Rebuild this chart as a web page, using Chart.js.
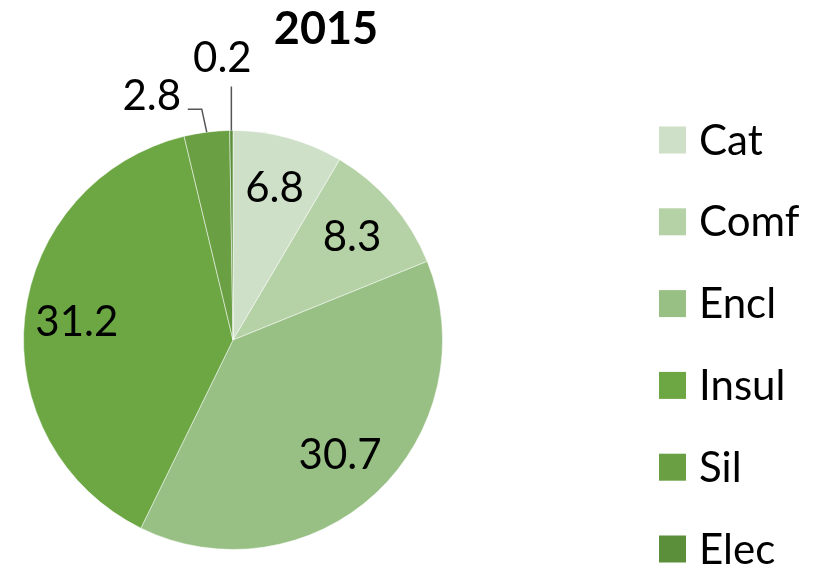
<!DOCTYPE html>
<html>
<head>
<meta charset="utf-8">
<script src="https://cdn.jsdelivr.net/npm/chart.js@4.4.2/dist/chart.umd.min.js"></script>
<style>
  html, body { margin: 0; padding: 0; background: #fff; }
  #wrap { width: 827px; height: 568px; }
</style>
</head>
<body>
<div id="wrap"><canvas id="chart" width="827" height="568"></canvas></div>
<script>
const title = '2015';
const labels = ['Cat', 'Comf', 'Encl', 'Insul', 'Sil', 'Elec'];
const values = [6.8, 8.3, 30.7, 31.2, 2.8, 0.2];
const colors = ['#cfe0c8', '#b5d1a6', '#98c085', '#6ca744', '#6aa043', '#5b8f3a'];

const FONT = 'Lato, "Open Sans", sans-serif';

// value labels: inside slices at 3/4 radius, the two small ones outside with leader lines
const sliceLabels = {
  id: 'sliceLabels',
  afterDatasetsDraw(chart) {
    const ctx = chart.ctx;
    const arcs = chart.getDatasetMeta(0).data;
    ctx.save();
    ctx.fillStyle = '#000';
    ctx.font = '42px ' + FONT;
    ctx.textAlign = 'center';
    ctx.textBaseline = 'middle';
    arcs.forEach((arc, i) => {
      const { x, y, startAngle, endAngle, outerRadius } = arc.getProps(['x', 'y', 'startAngle', 'endAngle', 'outerRadius'], true);
      const mid = (startAngle + endAngle) / 2;
      const text = values[i].toFixed(1);
      if (values[i] > 5) {
        const r = outerRadius * 0.75;
        ctx.fillText(text, x + Math.cos(mid) * r, y + Math.sin(mid) * r);
        return;
      }
      const ex = x + Math.cos(mid) * outerRadius;
      const ey = y + Math.sin(mid) * outerRadius;
      ctx.strokeStyle = '#555';
      ctx.lineWidth = 1.5;
      ctx.beginPath();
      if (i === 4) {
        ctx.moveTo(ex, ey);
        ctx.lineTo(ex - 5, ey - 23);
        ctx.lineTo(ex - 19, ey - 23);
        ctx.stroke();
        ctx.fillText(text, ex - 55, ey - 36);
      } else {
        ctx.moveTo(ex, ey);
        ctx.lineTo(ex, ey - 44);
        ctx.stroke();
        ctx.fillText(text, ex - 9, ey - 72);
      }
    });
    ctx.restore();
  }
};

// title and legend drawn at fixed spots to the right of the pie
const sideLegend = {
  id: 'sideLegend',
  afterDraw(chart) {
    const ctx = chart.ctx;
    ctx.save();
    ctx.fillStyle = '#000';
    ctx.font = 'bold 45px ' + FONT;
    ctx.textAlign = 'center';
    ctx.textBaseline = 'middle';
    ctx.fillText(title, 326, 29);

    ctx.font = '42px ' + FONT;
    ctx.textAlign = 'left';
    chart.data.labels.forEach((lab, i) => {
      const cy = 140 + i * 81.8;
      ctx.fillStyle = chart.data.datasets[0].backgroundColor[i];
      ctx.fillRect(659, cy - 13.5, 27, 27);
      ctx.fillStyle = '#000';
      ctx.fillText(lab, 699, cy + 1);
    });
    ctx.restore();
  }
};

new Chart(document.getElementById('chart'), {
  type: 'pie',
  data: {
    labels: labels,
    datasets: [{
      data: values,
      backgroundColor: colors,
      borderColor: 'rgba(255,255,255,0.5)',
      borderWidth: 1
    }]
  },
  options: {
    responsive: false,
    animation: false,
    layout: {
      padding: { left: 23, top: 130, right: 384, bottom: 18 }
    },
    plugins: {
      legend: { display: false },
      tooltip: { enabled: false }
    }
  },
  plugins: [sliceLabels, sideLegend]
});
</script>
</body>
</html>
